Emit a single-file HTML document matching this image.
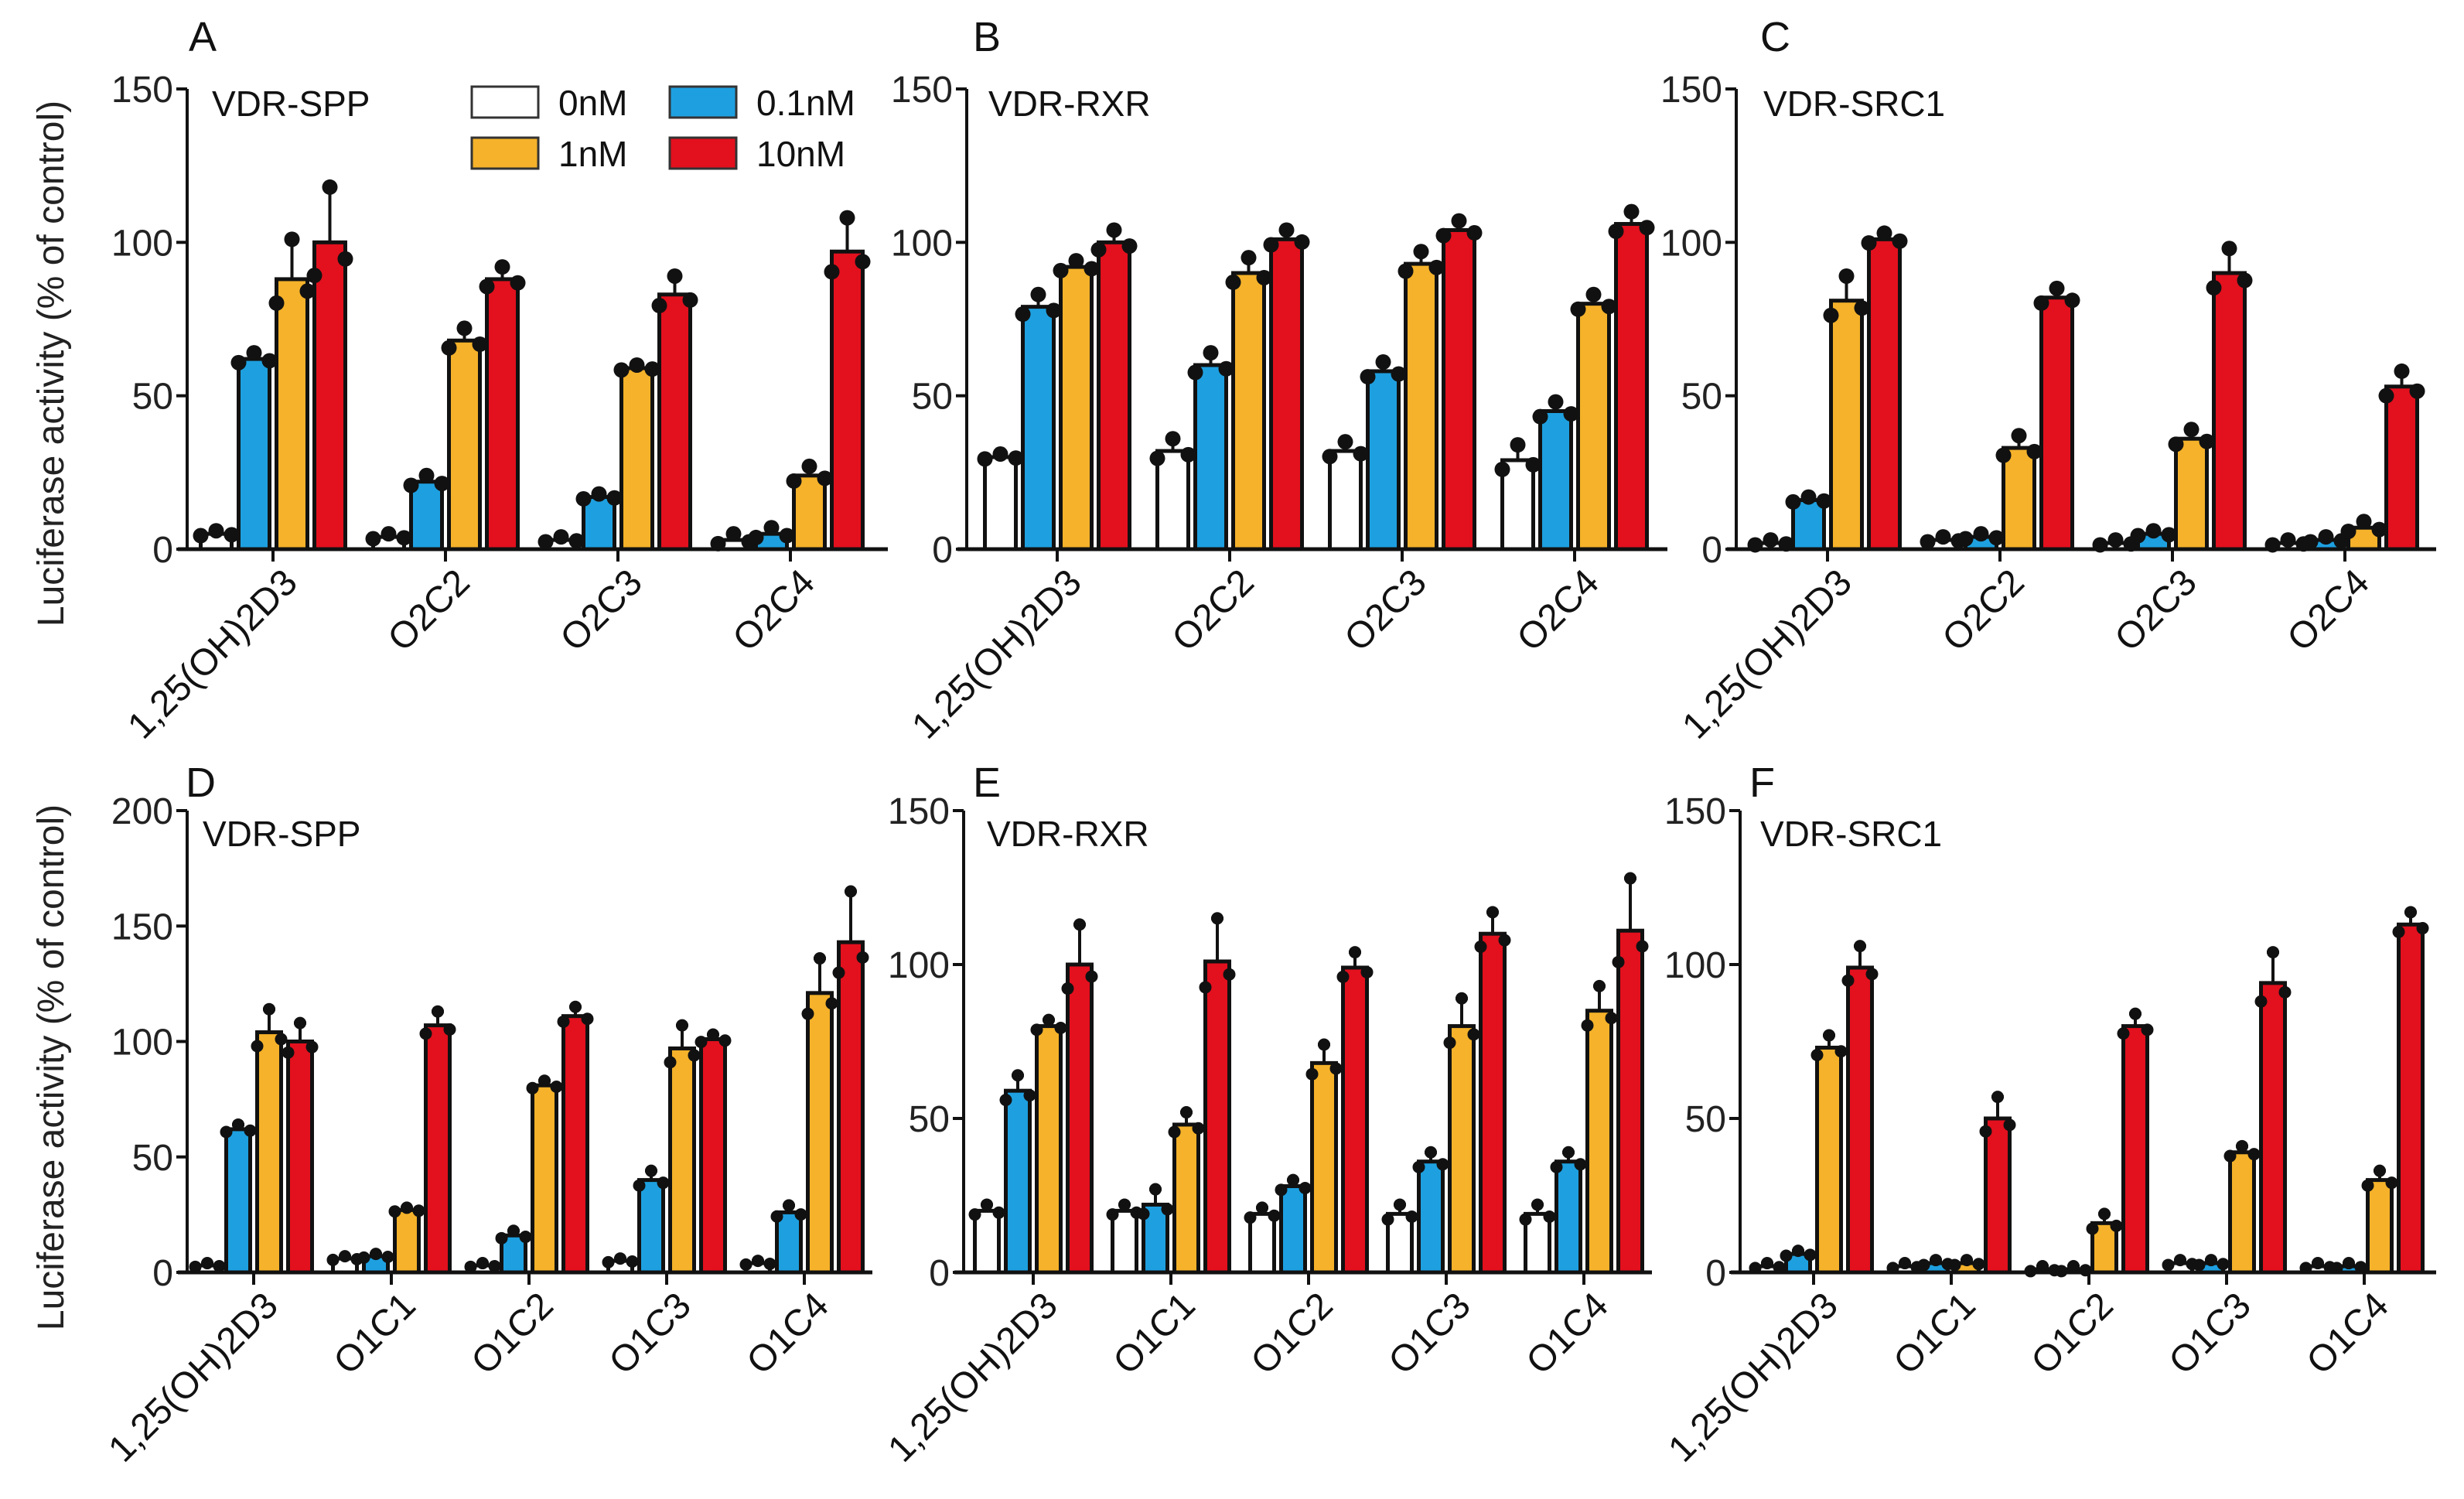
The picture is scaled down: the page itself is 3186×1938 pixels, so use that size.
<!DOCTYPE html>
<html><head><meta charset="utf-8"><style>
html,body{margin:0;padding:0;background:#fff}
svg{display:block;font-family:"Liberation Sans",Arial,sans-serif}
</style></head><body>
<svg id="fig" width="3186" height="1938" viewBox="0 0 3186 1938" xmlns="http://www.w3.org/2000/svg"></svg>
<script>
const seriesNames=["0nM","0.1nM","1nM","10nM"];
const seriesColors=["#ffffff","#1ea0e0","#f5b22a","#e3101e"];
const catsTop=["1,25(OH)2D3","O2C2","O2C3","O2C4"];
const catsBot=["1,25(OH)2D3","O1C1","O1C2","O1C3","O1C4"];
const valsA=[[5,62,88,100],[4,22,68,88],[3,17,59,83],[3,5,24,97]];
const errA=[[1,2,13,18],[1,2,4,4],[1,1,1,6],[2,2,3,11]];
const valsB=[[30,79,92,100],[32,60,90,101],[32,58,93,104],[29,45,80,106]];
const errB=[[1,4,2,4],[4,4,5,3],[3,3,4,3],[5,3,3,4]];
const valsC=[[2,16,81,101],[3,4,33,82],[2,5,36,90],[2,3,7,53]];
const errC=[[1,1,8,2],[1,1,4,3],[1,1,3,8],[1,1,2,5]];
const valsD=[[3,62,104,100],[6,7,27,107],[3,16,81,111],[5,40,97,101],[4,26,121,143]];
const errD=[[1,2,10,8],[1,1,1,6],[1,2,2,4],[1,4,10,2],[1,3,15,22]];
const valsE=[[20,59,80,100],[20,22,48,101],[19,28,68,99],[19,36,80,110],[19,36,85,111]];
const errE=[[2,5,2,13],[2,5,4,14],[2,2,6,5],[3,3,9,7],[3,3,8,17]];
const valsF=[[2,6,73,99],[2,3,3,50],[1,1,16,80],[3,3,39,94],[2,2,30,113]];
const errF=[[1,1,4,7],[1,1,1,7],[1,1,3,4],[1,1,2,10],[1,1,3,4]];
const ticksTop=[0,50,100,150];
const ticksD=[0,50,100,150,200];

const NS="http://www.w3.org/2000/svg";
const svg=document.getElementById('fig');
function mk(tag,attrs,parent){const e=document.createElementNS(NS,tag);for(const k in attrs)e.setAttribute(k,attrs[k]);(parent||svg).appendChild(e);return e;}

[470,1380].forEach((py,i)=>{
  const t=mk('text',{x:0,y:0,'font-size':48,'text-anchor':'middle',transform:`translate(82,${py}) rotate(-90)`,fill:'#222'});
  
  
  t.textContent='Luciferase activity (% of control)';
});

function panel(o){
  const g=mk('g',{});
  
  
  const y=v=>o.y0-(v/o.ymax)*(o.y0-o.ytop);
  const cx=i=>o.t0+i*o.gs;
  const L=mk('text',{x:o.lx,y:o.ly,'font-size':54,fill:'#111'},g);
  
  
  L.textContent=o.letter;
  const T=mk('text',{x:o.tx,y:o.ty,'font-size':46,fill:'#111'},g);
  
  
  T.textContent=o.title;
  o.vals.forEach((grp,gi)=>{
    grp.forEach((v,si)=>{
      const bx=cx(gi)+(si-1.5)*o.bs;
      const tp=y(v),h=o.y0-tp;
      const r=mk('rect',{x:bx-o.bw/2,y:tp,width:o.bw,height:Math.max(h,0),fill:seriesColors[si],stroke:'#111','stroke-width':5},g);
      
      
      const e=o.err[gi][si];
      mk('line',{x1:bx,x2:bx,y1:tp,y2:y(v+e),stroke:'#111','stroke-width':4},g);
      mk('line',{x1:bx-8,x2:bx+8,y1:y(v+e),y2:y(v+e),stroke:'#111','stroke-width':4},g);
      [[-o.bw/2,v-e*0.6],[0,v+e],[o.bw/2,v-e*0.3]].forEach(p=>{
        const c=mk('circle',{cx:bx+p[0],cy:y(p[1]),r:o.mr,fill:'#111'},g);
        
        
      });
    });
    mk('line',{x1:cx(gi),x2:cx(gi),y1:o.y0,y2:o.y0+16,stroke:'#111','stroke-width':4},g);
    const lb=mk('text',{x:0,y:0,'font-size':48,'text-anchor':'end',fill:'#111',transform:`translate(${cx(gi)+34},${o.y0+46}) rotate(-45)`},g);
    
    
    lb.textContent=o.cats[gi];
  });
  const ya=mk('line',{x1:o.ax,x2:o.ax,y1:o.ytop,y2:o.y0+2,stroke:'#111','stroke-width':4},g);
  
  
  const xa=mk('line',{x1:o.ax-12,x2:o.xend,y1:o.y0,y2:o.y0,stroke:'#111','stroke-width':5},g);
  
  
  o.ticks.forEach(t=>{
    mk('line',{x1:o.ax-14,x2:o.ax,y1:y(t),y2:y(t),stroke:'#111','stroke-width':4},g);
    const tl=mk('text',{x:o.ax-18,y:y(t)+17,'font-size':48,'text-anchor':'end',fill:'#222'},g);
    
    
    tl.textContent=t;
  });
}
const topCfg={ymax:150,ytop:115,y0:710,gs:223,bs:49,bw:40,mr:10,ticks:ticksTop,cats:catsTop,ty:150};
panel(Object.assign({},topCfg,{letter:'A',title:'VDR-SPP',vals:valsA,err:errA,ax:242,t0:353,xend:1148,lx:244,ly:66,tx:274}));
panel(Object.assign({},topCfg,{letter:'B',title:'VDR-RXR',vals:valsB,err:errB,ax:1250,t0:1367,xend:2156,lx:1258,ly:66,tx:1278}));
panel(Object.assign({},topCfg,{letter:'C',title:'VDR-SRC1',vals:valsC,err:errC,ax:2245,t0:2363,xend:3150,lx:2276,ly:66,tx:2280}));
const botCfg={ytop:1048,y0:1645,gs:178,bs:40,bw:31,mr:8,cats:catsBot,ty:1094};
panel(Object.assign({},botCfg,{letter:'D',title:'VDR-SPP',ymax:200,ticks:ticksD,vals:valsD,err:errD,ax:242,t0:328,xend:1128,lx:240,ly:1030,tx:262}));
panel(Object.assign({},botCfg,{letter:'E',title:'VDR-RXR',ymax:150,ticks:ticksTop,vals:valsE,err:errE,ax:1246,t0:1336,xend:2136,lx:1258,ly:1030,tx:1276}));
panel(Object.assign({},botCfg,{letter:'F',title:'VDR-SRC1',ymax:150,ticks:ticksTop,vals:valsF,err:errF,ax:2250,t0:2345,xend:3150,lx:2262,ly:1030,tx:2276}));

const leg=mk('g',{});


const legPos=[[610,112],[866,112],[610,178],[866,178]];
seriesNames.forEach((n,i)=>{
  const r=mk('rect',{x:legPos[i][0],y:legPos[i][1],width:86,height:40,fill:seriesColors[i],stroke:'#333','stroke-width':3},leg);
  
  
  const t=mk('text',{x:legPos[i][0]+112,y:legPos[i][1]+37,'font-size':46,fill:'#111'},leg);
  
  
  t.textContent=n;
});
</script>
</body></html>
